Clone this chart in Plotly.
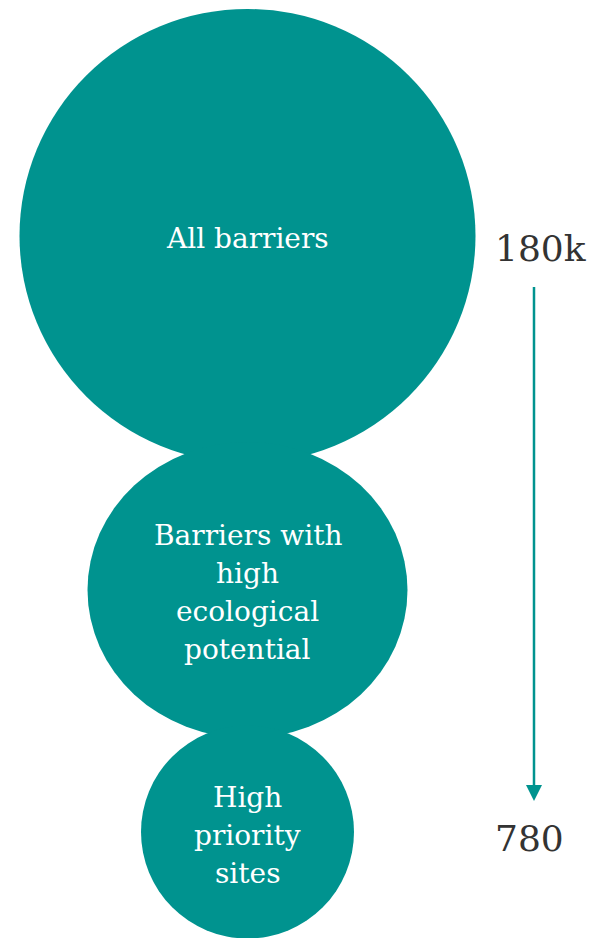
import plotly.graph_objects as go

# ---- data ----
stages = ["All barriers", "Barriers with<br>high<br>ecological<br>potential", "High<br>priority<br>sites"]
counts = ["180k", None, "780"]

# ---- layout constants (pixels) ----
W, H = 604, 938
TEAL = "#00938F"
cx = 247.5
centers_y = [236, 590, 832]
radii_x = [228, 160, 106.5]
radii_y = [227, 148, 106.5]
text_y = [238, 592, 835]
line_gap = 38
arrow_x = 534
arrow_top, arrow_tip = 287, 801
num_x = 493
num_y = [248, 838]

fig = go.Figure()
shapes = []
for cy, rx, ry in zip(centers_y, radii_x, radii_y):
    shapes.append(dict(type="circle", xref="x", yref="y", x0=cx - rx, x1=cx + rx,
                       y0=cy - ry, y1=cy + ry, fillcolor=TEAL, line=dict(width=0), layer="below"))
shapes.append(dict(type="line", xref="x", yref="y", x0=arrow_x, x1=arrow_x,
                   y0=arrow_top, y1=arrow_tip - 12, line=dict(color=TEAL, width=2.5)))
shapes.append(dict(type="path", xref="x", yref="y",
                   path=f"M {arrow_x-8},{arrow_tip-16} L {arrow_x+8},{arrow_tip-16} L {arrow_x},{arrow_tip} Z",
                   fillcolor=TEAL, line=dict(width=0)))

annotations = []
for label, ty in zip(stages, text_y):
    lines = label.split("<br>")
    n = len(lines)
    for i, ln in enumerate(lines):
        annotations.append(dict(x=cx, y=ty + (i - (n - 1) / 2) * line_gap, xref="x", yref="y",
                                text=ln, showarrow=False,
                                font=dict(family="DejaVu Serif", size=28, color="white"),
                                align="center", xanchor="center", yanchor="middle"))
vals = [c for c in counts if c is not None]
for v, ny in zip(vals, num_y):
    annotations.append(dict(x=num_x, y=ny, xref="x", yref="y", text=v, showarrow=False,
                            font=dict(family="DejaVu Serif", size=36, color="#333333"),
                            xanchor="left", yanchor="middle"))

fig.add_trace(go.Scatter(x=[0, W], y=[0, H], mode="markers", marker=dict(opacity=0),
                         hoverinfo="skip", showlegend=False))
fig.update_layout(width=W, height=H, margin=dict(l=0, r=0, t=0, b=0),
                  paper_bgcolor="white", plot_bgcolor="white",
                  shapes=shapes, annotations=annotations, showlegend=False,
                  xaxis=dict(range=[0, W], visible=False, fixedrange=True),
                  yaxis=dict(range=[H, 0], visible=False, fixedrange=True))
fig.write_html("out.html")
